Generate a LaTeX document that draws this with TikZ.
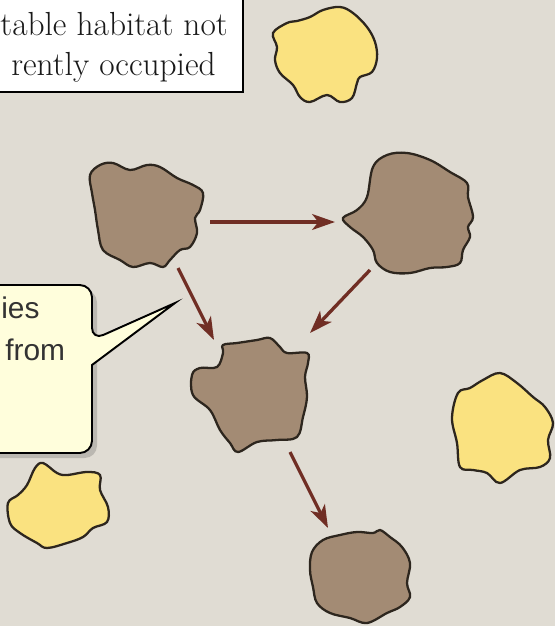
\documentclass[tikz,border=0pt]{standalone}
\usepackage{fontspec}
\setsansfont{Liberation Sans}
\usetikzlibrary{arrows.meta}

\definecolor{paper}{RGB}{224,220,211}
\definecolor{occupied}{RGB}{163,139,116}
\definecolor{empty}{RGB}{250,226,128}
\definecolor{balloon}{RGB}{255,254,220}
\definecolor{migrate}{RGB}{112,46,36}
\definecolor{rim}{RGB}{45,38,30}

\tikzset{
  occpatch/.style={draw=rim,line width=1.3pt,fill=occupied},
  emptypatch/.style={draw=rim,line width=1.3pt,fill=empty},
  disperse/.style={draw=migrate,line width=1.9pt,-{Stealth[length=13pt,width=9pt,inset=3.5pt]}},
  serifline/.style={inner sep=0pt,font=\fontsize{19}{23}\selectfont,text=black!90},
  sansline/.style={inner sep=0pt,font=\sffamily\fontsize{17}{21}\selectfont,text=black!80}
}

\begin{document}
\begin{tikzpicture}[x=0.02cm,y=-0.02cm]

      \useasboundingbox (0,0) rectangle (555,626);
      \clip (0,0) rectangle (555,626);
      \fill[paper] (0,0) rectangle (555,626);

      % label box at the top
      \draw[fill=white,line width=1pt] (-10,-10) rectangle (243,92);
      \node[serifline,anchor=base east] (suit) at (228,35){table habitat not};
      \node[serifline,anchor=base east] (curr) at (216,75){rently occupied};

      % speech balloon
      \fill[black,opacity=0.16,rounded corners=7pt] (-20,290) -- (97,290) -- (97,458) -- (-20,458) -- cycle;
      \draw[fill=balloon,line width=1.1pt,rounded corners=7pt] (-20,285) -- (92,285) -- (92,340)
            [sharp corners] -- (175,303) -- (92,365) [rounded corners=7pt] -- (92,453) -- (-20,453) -- cycle;
      \node[sansline,anchor=base west] (spec) at (1,318){ies};
      \node[sansline,anchor=base west] (from) at (5,360){from};

      % empty patches
      \draw[emptypatch] plot[smooth cycle,tension=0.6] coordinates {(273,33) (287,23) (297,21) (310,17) (323,10) (340,7) (353,13) (367,27) (375,42) (377,58) (372,72) (360,77) (357,83) (352,98) (340,102) (327,95) (310,102) (300,97) (293,85) (280,73) (275,60) (277,47)};
      \draw[emptypatch] plot[smooth cycle,tension=0.6] coordinates {(452,418) (458,393) (470,388) (483,380) (500,373) (517,383) (533,397) (545,407) (553,423) (548,440) (550,458) (540,467) (520,470) (500,483) (487,473) (473,470) (460,467) (457,443)};
      \draw[emptypatch] plot[smooth cycle,tension=0.6] coordinates {(8,503) (18,495) (27,485) (35,468) (43,463) (57,473) (67,475) (87,472) (100,475) (100,490) (108,507) (107,522) (93,528) (83,537) (67,543) (47,548) (37,543) (20,533) (10,523)};

      % occupied patches
      \draw[occpatch] plot[smooth cycle,tension=0.6] coordinates {(90,175) (100,165) (113,163) (130,170) (147,165) (160,167) (177,178) (193,185) (203,193) (200,210) (195,218) (197,233) (190,247) (180,250) (170,260) (163,267) (150,263) (133,267) (120,260) (103,250) (98,230) (95,210) (92,193)};
      \draw[occpatch] plot[smooth cycle,tension=0.6] coordinates {(343,218) (357,210) (367,197) (373,167) (387,155) (407,153) (430,160) (450,172) (467,183) (468,197) (473,217) (468,227) (470,237) (463,250) (460,263) (447,267) (430,268) (410,273) (390,272) (377,263) (373,250) (363,237) (350,227)};
      \draw[occpatch] plot[smooth cycle,tension=0.6] coordinates {(192,375) (200,368) (217,367) (223,353) (223,345) (237,343) (257,340) (270,338) (280,347) (287,353) (307,353) (308,363) (305,377) (307,397) (303,417) (297,437) (277,440) (257,442) (238,452) (230,443) (220,430) (210,410) (193,395)};
      \draw[occpatch] plot[smooth cycle,tension=0.6] coordinates {(312,552) (323,540) (340,535) (357,532) (373,533) (380,530) (390,537) (402,547) (410,563) (407,583) (410,597) (400,607) (387,613) (367,623) (350,618) (330,613) (317,603) (313,587) (310,570)};

      % arrow ends
      \coordinate (a) at (210,222);
      \coordinate (b) at (335,222);
      \coordinate (c) at (178,268);
      \coordinate (d) at (214,340);
      \coordinate (e) at (370,270);
      \coordinate (f) at (310,333);
      \coordinate (g) at (290,452);
      \coordinate (h) at (328,528);

      \draw[disperse] (a) -- (b);
      \draw[disperse] (c) -- (d);
      \draw[disperse] (e) -- (f);
      \draw[disperse] (g) -- (h);
    \end{tikzpicture}
\end{document}
